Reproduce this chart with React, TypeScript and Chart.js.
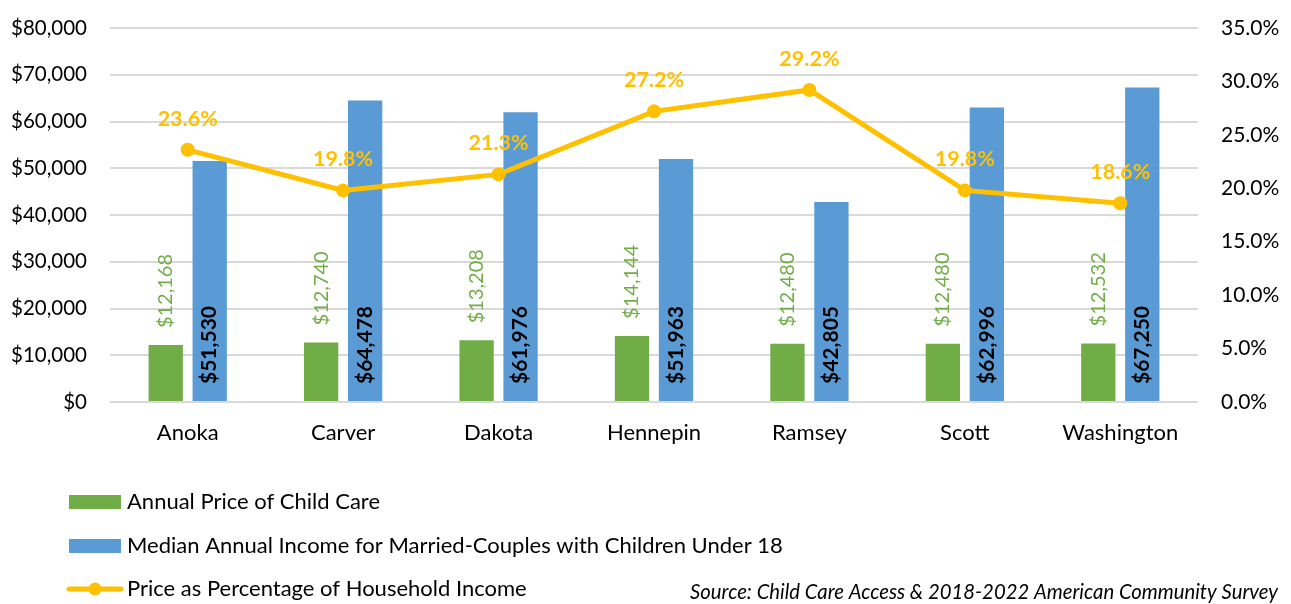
import React, { useEffect, useRef } from "react";
import { Chart, registerables } from "chart.js";

Chart.register(...registerables);

const categories = ["Anoka", "Carver", "Dakota", "Hennepin", "Ramsey", "Scott", "Washington"];
const childCarePrice = [12168, 12740, 13208, 14144, 12480, 12480, 12532];
const medianIncome = [51530, 64478, 61976, 51963, 42805, 62996, 67250];
const pricePercent = [23.6, 19.8, 21.3, 27.2, 29.2, 19.8, 18.6];

const seriesNames = [
  "Annual Price of Child Care",
  "Median Annual Income for Married-Couples with Children Under 18",
  "Price as Percentage of Household Income",
];
const sourceText = "Source: Child Care Access & 2018-2022 American Community Survey";

const GREEN = "#70AD47";
const BLUE = "#5B9BD5";
const GOLD = "#FFC000";
const GRID = "#D9D9D9";
const FONT = "Lato, 'DejaVu Sans', sans-serif";

const money = (v: number) => "$" + Math.round(v).toLocaleString("en-US");

const labelPlugin = {
  id: "customLabels",
  afterDatasetsDraw(chart: any) {
    const ctx = chart.ctx as CanvasRenderingContext2D;
    const g = chart.getDatasetMeta(0);
    const b = chart.getDatasetMeta(1);
    const l = chart.getDatasetMeta(2);
    g.data.forEach((el: any, i: number) => {
      ctx.save();
      ctx.translate(el.x, el.y - 17);
      ctx.rotate(-Math.PI / 2);
      ctx.font = `20px ${FONT}`;
      ctx.fillStyle = GREEN;
      ctx.textAlign = "left";
      ctx.textBaseline = "middle";
      ctx.fillText(money(childCarePrice[i]), 0, 0);
      ctx.restore();
    });
    b.data.forEach((el: any, i: number) => {
      ctx.save();
      ctx.translate(el.x, el.base - 17);
      ctx.rotate(-Math.PI / 2);
      ctx.font = `bold 21px ${FONT}`;
      ctx.fillStyle = "#000000";
      ctx.textAlign = "left";
      ctx.textBaseline = "middle";
      ctx.fillText(money(medianIncome[i]), 0, 0);
      ctx.restore();
    });
    l.data.forEach((el: any, i: number) => {
      ctx.save();
      ctx.font = `bold 21.5px ${FONT}`;
      ctx.fillStyle = GOLD;
      ctx.textAlign = "center";
      ctx.textBaseline = "middle";
      ctx.fillText(pricePercent[i].toFixed(1) + "%", el.x, el.y - 31);
      ctx.restore();
    });
  },
  afterDraw(chart: any) {
    const ctx = chart.ctx as CanvasRenderingContext2D;
    ctx.save();
    const rows = [502, 546, 589];
    ctx.font = `22px ${FONT}`;
    ctx.textBaseline = "middle";
    ctx.textAlign = "left";
    ctx.fillStyle = GREEN;
    ctx.fillRect(69, rows[0] - 7, 52, 14);
    ctx.fillStyle = BLUE;
    ctx.fillRect(69, rows[1] - 7, 52, 14);
    ctx.strokeStyle = GOLD;
    ctx.lineWidth = 5;
    ctx.lineCap = "round";
    ctx.beginPath();
    ctx.moveTo(69, rows[2]);
    ctx.lineTo(121, rows[2]);
    ctx.stroke();
    ctx.fillStyle = GOLD;
    ctx.beginPath();
    ctx.arc(95, rows[2], 6.5, 0, Math.PI * 2);
    ctx.fill();
    ctx.fillStyle = "#000000";
    seriesNames.forEach((n, i) => ctx.fillText(n, 127, rows[i]));
    ctx.font = `italic 20.3px ${FONT}`;
    ctx.textAlign = "right";
    ctx.fillText(sourceText, 1278, 592);
    ctx.restore();
  },
};

const noVerticalPadding = (s: any, w: number) => {
  s.width = w;
  s.paddingTop = 0;
  s.paddingBottom = 0;
};

export default function App() {
  const ref = useRef<HTMLCanvasElement | null>(null);
  useEffect(() => {
    document.body.style.margin = "0";
    if (!ref.current) return;
    const chart = new Chart(ref.current, {
      type: "bar",
      data: {
        labels: categories,
        datasets: [
          {
            type: "bar",
            label: seriesNames[0],
            data: childCarePrice,
            backgroundColor: GREEN,
            yAxisID: "y",
            order: 1,
            categoryPercentage: 0.566,
            barPercentage: 0.78,
          },
          {
            type: "bar",
            label: seriesNames[1],
            data: medianIncome,
            backgroundColor: BLUE,
            yAxisID: "y",
            order: 1,
            categoryPercentage: 0.566,
            barPercentage: 0.78,
          },
          {
            type: "line",
            label: seriesNames[2],
            data: pricePercent,
            borderColor: GOLD,
            backgroundColor: GOLD,
            borderWidth: 5,
            pointRadius: 7,
            pointBackgroundColor: GOLD,
            pointBorderWidth: 0,
            tension: 0,
            yAxisID: "y1",
            order: 0,
          } as any,
        ],
      },
      options: {
        responsive: false,
        animation: false,
        devicePixelRatio: 1,
        layout: { padding: { top: 28, left: 0, right: 0, bottom: 0 } },
        plugins: {
          legend: { display: false },
          tooltip: { enabled: false },
        },
        scales: {
          x: {
            grid: { display: false, drawTicks: false },
            border: { display: false },
            ticks: { color: "#000", font: { family: FONT, size: 22 }, padding: 18 },
            afterFit: (s: any) => {
              s.height = 202;
            },
          },
          y: {
            position: "left",
            min: 0,
            max: 80000,
            ticks: {
              stepSize: 10000,
              color: "#000",
              font: { family: FONT, size: 20.5 },
              padding: 23,
              callback: (v: any) => money(Number(v)),
            },
            grid: { color: GRID, lineWidth: 2, drawTicks: false },
            border: { display: false },
            afterFit: (s: any) => noVerticalPadding(s, 110),
          },
          y1: {
            position: "right",
            min: 0,
            max: 35,
            ticks: {
              stepSize: 5,
              color: "#000",
              font: { family: FONT, size: 21 },
              padding: 23,
              callback: (v: any) => Number(v).toFixed(1) + "%",
            },
            grid: { drawOnChartArea: false, drawTicks: false },
            border: { display: false },
            afterFit: (s: any) => noVerticalPadding(s, 93),
          },
        },
      },
      plugins: [labelPlugin],
    });
    return () => chart.destroy();
  }, []);
  return (
    <div style={{ position: "absolute", left: 0, top: 0, width: 1291, height: 604, background: "#fff" }}>
      <canvas ref={ref} width={1291} height={604} />
    </div>
  );
}
